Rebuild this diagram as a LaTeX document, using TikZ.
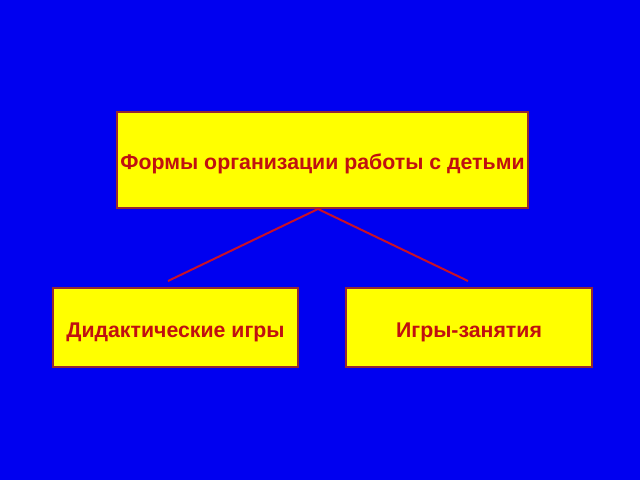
\documentclass[tikz,border=0pt]{standalone}
\usepackage{fontspec}
\setmainfont{Liberation Sans}
\definecolor{slideblue}{RGB}{0,0,240}
\definecolor{boxyellow}{RGB}{255,255,0}
\definecolor{textred}{RGB}{192,16,16}
\definecolor{edgered}{RGB}{150,40,50}
\definecolor{linered}{RGB}{200,16,40}
\tikzset{
    formbox/.style={draw=edgered,line width=1.2bp,fill=boxyellow,
        text=textred,font=\bfseries\fontsize{21.3bp}{24bp}\selectfont,
        inner sep=0pt,text height=20bp,text depth=0pt},
    branch/.style={draw=linered,line width=2bp}
}

\begin{document}
\begin{tikzpicture}[x=1bp,y=-1bp]
\fill[slideblue] (0,0) rectangle (640,480);
\useasboundingbox (0,0) rectangle (640,480);
\node[formbox,minimum width=411bp,minimum height=96bp] (forms) at (322.5,160)
    {Формы организации работы с детьми};
\node[formbox,minimum width=245bp,minimum height=79bp] (didactic) at (175.5,327.5)
    {Дидактические игры};
\node[formbox,minimum width=246bp,minimum height=79bp] (lessons) at (469,327.5)
    {Игры-занятия};
\coordinate (top) at (318,209);
\coordinate (leftend) at (168,281);
\coordinate (rightend) at (468,281);
\draw[branch]
                (top) -- (leftend)
                (top) -- (rightend)
            ;\end{tikzpicture}
\end{document}
